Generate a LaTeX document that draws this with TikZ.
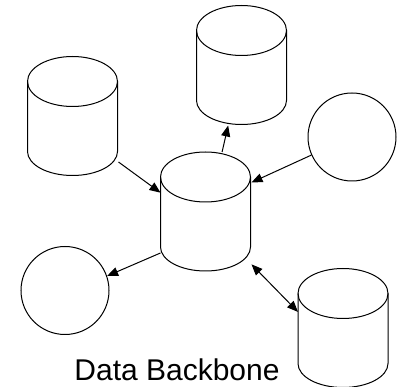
\documentclass[tikz,border=0pt]{standalone}
\usepackage{fontspec}
\setmainfont{Liberation Sans}
\usetikzlibrary{arrows.meta}
% a store: box node for the anchors, drum drawn on it
\newcommand\drum[2]{%
  \node[drumbox] (#1) at (#2) {};
  \draw (#1.north west) ++(0,25) arc[start angle=180,end angle=-180,x radius=45,y radius=25];
  \draw (#1.north west) ++(0,25) -- ++(0,70) arc[start angle=180,end angle=0,x radius=45,y radius=24] -- ++(0,-70);
}
\begin{document}
\begin{tikzpicture}[x=1pt,y=-1pt,line width=1pt,
  drumbox/.style={minimum width=90pt,minimum height=119pt,inner sep=0pt},
  disc/.style={draw,circle,minimum size=88pt,inner sep=0pt},
  tip/.tip={Triangle[length=11pt,width=9pt]},
  link/.style={-tip}]
\useasboundingbox (0,0) rectangle (402,387);
% stores
\drum{dbleft}{73,116.5}
\drum{dbtop}{242,65.5}
\drum{dbmid}{206,212}
\drum{dbright}{343.5,328.5}
% clients
\node[disc] (cright) at (352,137) {};
\node[disc] (cleft) at (65,290.5) {};
\node[anchor=base,inner sep=0pt,font=\fontsize{30}{36}\selectfont] (title) at (177,381) {Data Backbone};
% links
\draw[link] (dbleft.-45) -- (dbmid.157);
\draw[link] (dbmid.75) -- (dbtop.257);
\draw[link] (cright.204) -- (dbmid.33);
\draw[link] (dbmid.222) -- (cleft.19);
\draw[tip-tip] (dbmid.-49) -- (dbright.160);
\end{tikzpicture}
\end{document}
